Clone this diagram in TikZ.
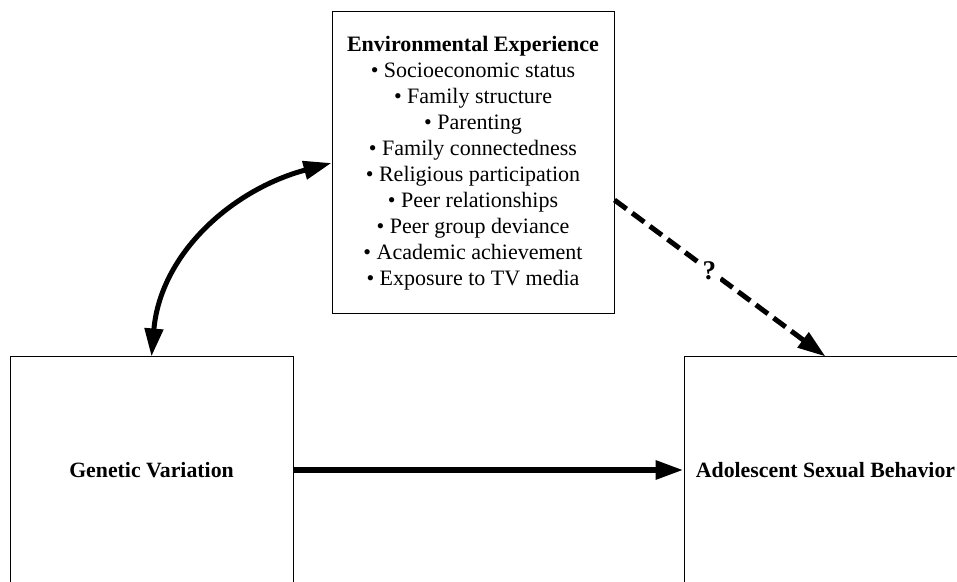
\documentclass[tikz,border=0pt]{standalone}
\usepackage{fontspec}
\setmainfont{Liberation Serif}
\usetikzlibrary{arrows.meta,positioning}

\tikzset{
  factorbox/.style={draw, line width=1pt, minimum width=283pt, minimum height=226pt,
    inner sep=0pt, font=\fontsize{21.8}{26}\selectfont\bfseries},
  bigtip/.style={-{Triangle[length=28pt,width=18pt]}},
  bothtips/.style={{Triangle[length=28pt,width=18pt]}-{Triangle[length=28pt,width=18pt]}}
}

\begin{document}
\begin{tikzpicture}[x=1pt, y=1pt]
  \useasboundingbox (0,0) rectangle (957,581);
  \clip (0,0) rectangle (957,581);

  \node[draw, line width=1pt, minimum width=282pt, minimum height=302pt, inner sep=0pt,
        align=center, font=\fontsize{22}{26}\selectfont] (env) at (473,418)
    {\textbf{Environmental Experience}\\
     • Socioeconomic status\\
     • Family  structure\\
     • Parenting\\
     • Family  connectedness\\
     • Religious  participation\\
     • Peer relationships\\
     • Peer group  deviance\\
     • Academic achievement\\
     • Exposure to TV media};

  \node[factorbox] (gen) at (151.5,111) {Genetic Variation};
  \node[factorbox] (adol) at (825.5,111) {Adolescent Sexual Behavior};

  \draw[bigtip, line width=6pt] (gen.east) -- (adol.west);
  \draw[bothtips, line width=5pt] (gen.north) to[out=85, in=195] (env.west);
  \draw[bigtip, line width=5pt, dash pattern=on 15pt off 7pt]
    ([yshift=-37pt]env.east) -- (adol.north)
    node[pos=0.45, fill=white, inner sep=4pt, font=\fontsize{27}{30}\selectfont\bfseries] (qmark) {?};

\end{tikzpicture}
\end{document}
